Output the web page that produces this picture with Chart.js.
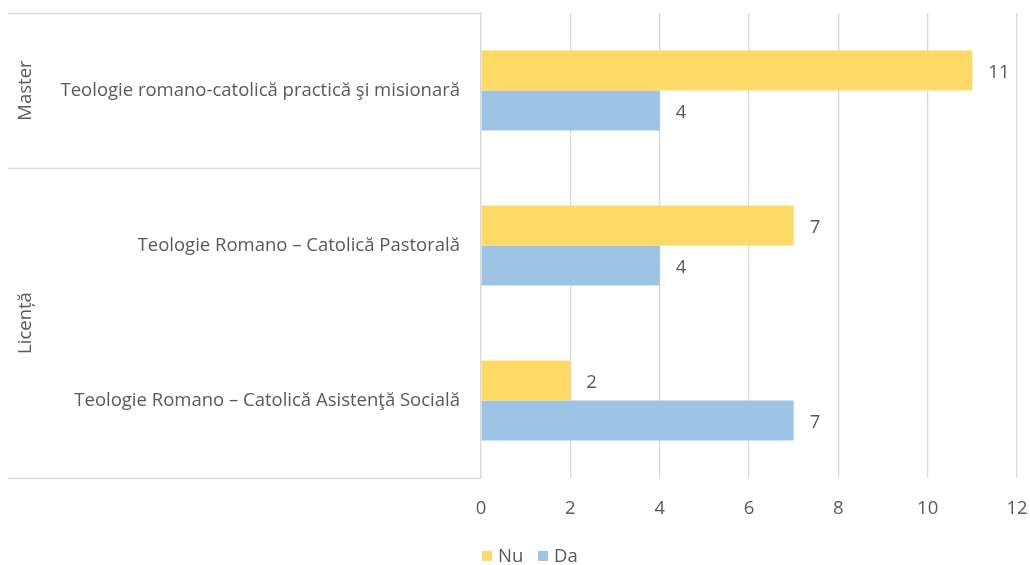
<!DOCTYPE html>
<html>
<head>
<meta charset="utf-8">
<script src="https://cdn.jsdelivr.net/npm/chart.js@4.4.1/dist/chart.umd.min.js"></script>
<style>
html,body{margin:0;padding:0;background:#fff;}
#wrap{width:1030px;height:565px;position:relative;}
</style>
</head>
<body>
<div id="wrap"><canvas id="c" width="1030" height="565"></canvas></div>
<script>
const categories = [
  "Teologie romano-catolică practică şi misionară",
  "Teologie Romano – Catolică Pastorală",
  "Teologie Romano – Catolică Asistenţă Socială"
];
const groups = [
  { label: "Master", from: 0, to: 0 },
  { label: "Licență", from: 1, to: 2 }
];
const seriesNames = ["Nu", "Da"];
const nuValues = [11, 7, 2];
const daValues = [4, 4, 7];
const xTicks = [0, 2, 4, 6, 8, 10, 12];

const FONT = "'Open Sans', sans-serif";
const FS = 18.5;
const TEXT = '#595959';
const GRID = '#D9D9D9';
const COLORS = ['#FFD966', '#9DC3E6'];

const groupPlugin = {
  id: 'groupPlugin',
  afterDraw(chart) {
    const ctx = chart.ctx;
    const area = chart.chartArea;
    const n = categories.length;
    const step = (area.bottom - area.top) / n;
    ctx.save();
    ctx.strokeStyle = GRID;
    ctx.lineWidth = 1.3;
    const bounds = [area.top];
    groups.forEach(g => bounds.push(area.top + step * (g.to + 1)));
    bounds.forEach(b => {
      ctx.beginPath();
      ctx.moveTo(8, Math.round(b) + 0.5);
      ctx.lineTo(area.left, Math.round(b) + 0.5);
      ctx.stroke();
    });
    ctx.fillStyle = TEXT;
    ctx.font = FS + "px " + FONT;
    ctx.textAlign = 'center';
    ctx.textBaseline = 'middle';
    groups.forEach(g => {
      const top = area.top + step * g.from;
      const bot = area.top + step * (g.to + 1);
      ctx.save();
      ctx.translate(25.5, (top + bot) / 2);
      ctx.rotate(-Math.PI / 2);
      ctx.fillText(g.label, 0, 0);
      ctx.restore();
    });
    // data labels
    ctx.textAlign = 'left';
    chart.data.datasets.forEach((ds, i) => {
      const meta = chart.getDatasetMeta(i);
      meta.data.forEach((bar, j) => {
        ctx.fillText(String(ds.data[j]), bar.x + 16, bar.y + 2.5);
      });
    });
    // legend
    const legendX = [482, 538];
    chart.data.datasets.forEach((ds, i) => {
      ctx.fillStyle = ds.backgroundColor;
      ctx.fillRect(legendX[i], 551, 10, 10);
      ctx.fillStyle = TEXT;
      ctx.fillText(ds.label, legendX[i] + 16, 557);
    });
    ctx.restore();
  }
};

new Chart(document.getElementById('c'), {
  type: 'bar',
  data: {
    labels: categories,
    datasets: [
      { label: seriesNames[0], data: nuValues, backgroundColor: COLORS[0] },
      { label: seriesNames[1], data: daValues, backgroundColor: COLORS[1] }
    ]
  },
  options: {
    indexAxis: 'y',
    responsive: false,
    animation: false,
    categoryPercentage: 0.516,
    barPercentage: 1,
    layout: { padding: { top: 13, right: 13, left: 0, bottom: 0 } },
    scales: {
      x: {
        min: 0, max: 12,
        afterBuildTicks(scale) { scale.ticks = xTicks.map(v => ({ value: v })); },
        grid: { color: GRID, lineWidth: 1.3, drawTicks: false },
        border: { display: false },
        ticks: { color: TEXT, font: { family: FONT, size: FS }, padding: 20 },
        afterFit(scale) { scale.height = 87; scale.paddingLeft = 0; scale.paddingRight = 0; }
      },
      y: {
        grid: { display: false, drawTicks: false },
        border: { display: true, color: GRID, width: 1.3 },
        ticks: { color: TEXT, font: { family: FONT, size: FS }, padding: 21 },
        afterFit(scale) { scale.width = 481; scale.paddingTop = 0; scale.paddingBottom = 0; }
      }
    },
    plugins: {
      legend: { display: false },
      tooltip: { enabled: false }
    }
  },
  plugins: [groupPlugin]
});
</script>
</body>
</html>
